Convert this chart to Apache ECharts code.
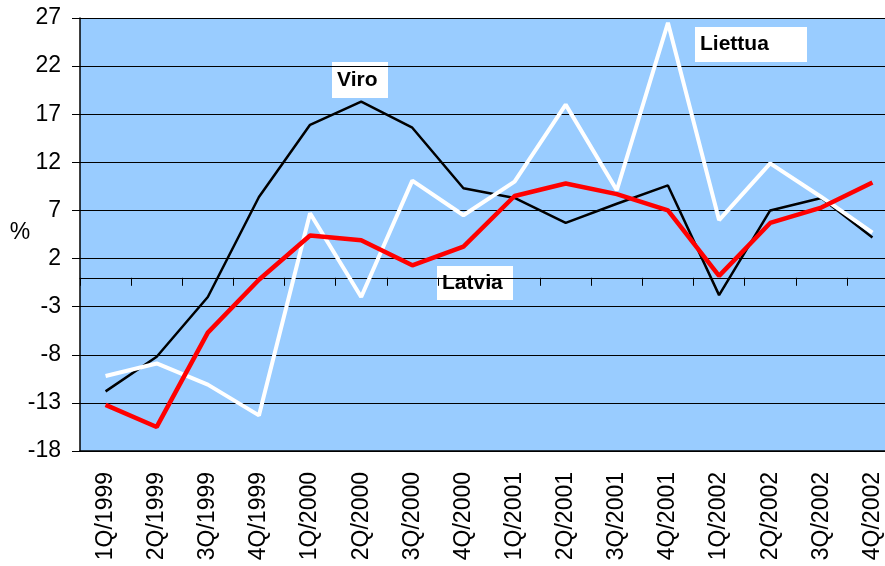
<!DOCTYPE html>
<html>
<head>
<meta charset="utf-8">
<script src="https://cdn.jsdelivr.net/npm/echarts@6/dist/echarts.min.js"></script>
<style>
html,body{margin:0;padding:0;background:#fff;}
#chart{width:885px;height:566px;}
</style>
</head>
<body>
<div id="chart"></div>
<script>
const categories = ['1Q/1999','2Q/1999','3Q/1999','4Q/1999','1Q/2000','2Q/2000','3Q/2000','4Q/2000','1Q/2001','2Q/2001','3Q/2001','4Q/2001','1Q/2002','2Q/2002','3Q/2002','4Q/2002'];
const viro    = [-11.8, -8.2, -2.0, 8.4, 15.9, 18.3, 15.6, 9.3, 8.3, 5.7, 7.7, 9.6, -1.8, 7.0, 8.3, 4.2];
const liettua = [-10.2, -8.9, -11.1, -14.3, 6.7, -2.0, 10.1, 6.5, 10.0, 18.0, 9.1, 26.5, 6.0, 11.9, 8.4, 4.7];
const latvia  = [-13.2, -15.5, -5.7, -0.2, 4.4, 3.9, 1.3, 3.25, 8.5, 9.8, 8.7, 7.0, 0.2, 5.7, 7.3, 9.9];
const yMin = -18, yMax = 27, yStep = 5;

const FONT = '"Liberation Sans", Arial, sans-serif';
const chart = echarts.init(document.getElementById('chart'), null, {renderer: 'canvas'});

function labelBox(x, y, w, h, text, tx) {
  return {
    type: 'group', z: 100,
    children: [
      {type: 'rect', shape: {x: x, y: y, width: w, height: h}, style: {fill: '#fff'}},
      {type: 'text', style: {x: tx, y: y + h / 2, text: text, font: 'bold 21px ' + FONT, fill: '#000', verticalAlign: 'middle', textAlign: 'left'}}
    ]
  };
}

chart.setOption({
  animation: false,
  grid: {left: 80, top: 18, width: 818, height: 433, show: true, backgroundColor: '#99CCFF', borderWidth: 0,
         containLabel: false, outerBoundsMode: 'none'},
  xAxis: [
    {
      type: 'category', data: categories, boundaryGap: true, position: 'bottom',
      axisLine: {onZero: true, lineStyle: {color: '#000', width: 1}},
      axisTick: {show: true, interval: 0, length: 8, lineStyle: {color: '#000'}},
      axisLabel: {show: false, interval: 0},
      splitLine: {show: false}
    },
    {
      type: 'category', data: categories, boundaryGap: true, position: 'bottom',
      axisLine: {onZero: false, lineStyle: {color: '#000', width: 1.5}},
      axisTick: {show: false},
      axisLabel: {show: true, rotate: 90, interval: 0, margin: 21, fontSize: 23, fontFamily: FONT, color: '#000'},
      splitLine: {show: false}
    }
  ],
  yAxis: {
    type: 'value', min: yMin, max: yMax, interval: yStep,
    axisLine: {show: true, onZero: false, lineStyle: {color: '#000', width: 1.5}},
    axisTick: {show: true, length: 8, lineStyle: {color: '#000'}},
    axisLabel: {fontSize: 23, fontFamily: FONT, color: '#000', margin: 19},
    splitLine: {show: true, lineStyle: {color: '#000', width: 1}}
  },
  series: [
    {name: 'Viro', type: 'line', data: viro, xAxisIndex: 0, showSymbol: false, symbol: 'none',
     lineStyle: {color: '#000', width: 2.5}, z: 2},
    {name: 'Liettua', type: 'line', data: liettua, xAxisIndex: 0, showSymbol: false, symbol: 'none',
     lineStyle: {color: '#fff', width: 4}, z: 3},
    {name: 'Latvia', type: 'line', data: latvia, xAxisIndex: 0, showSymbol: false, symbol: 'none',
     lineStyle: {color: '#ff0000', width: 4.5}, z: 4}
  ],
  graphic: [
    {type: 'text', z: 100, style: {x: 20, y: 233, text: '%', font: '23px ' + FONT, fill: '#000', textAlign: 'center', verticalAlign: 'middle'}},
    labelBox(332, 62, 56, 36, 'Viro', 337),
    labelBox(437, 266, 76, 34, 'Latvia', 442),
    labelBox(695, 27, 112, 35, 'Liettua', 700)
  ]
});
</script>
</body>
</html>
